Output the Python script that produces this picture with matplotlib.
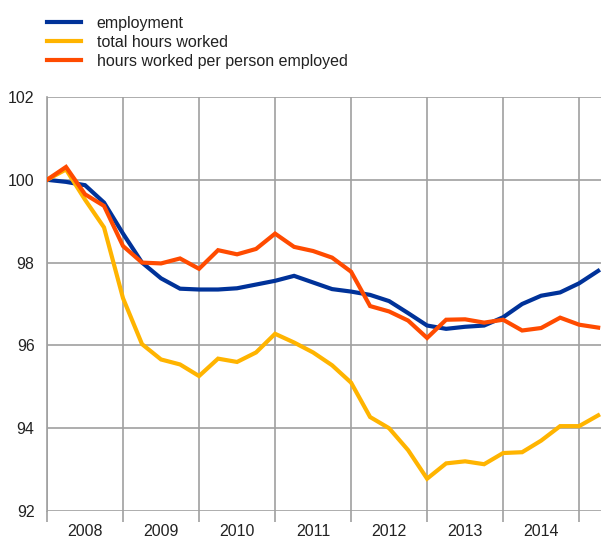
import matplotlib
matplotlib.use("Agg")
import matplotlib.pyplot as plt
import numpy as np

plt.rcParams['font.family'] = ['Liberation Sans', 'DejaVu Sans']

years = ["2008", "2009", "2010", "2011", "2012", "2013", "2014"]
# quarterly index values, 2008 Q1 .. 2015 Q2
employment = [100.0, 99.95, 99.87, 99.45, 98.7, 98.0, 97.62, 97.37, 97.35, 97.35,
              97.38, 97.47, 97.56, 97.68, 97.52, 97.36, 97.3, 97.22, 97.07, 96.78,
              96.48, 96.4, 96.45, 96.48, 96.68, 97.0, 97.2, 97.28, 97.5, 97.8]
total_hours = [100.0, 100.25, 99.52, 98.85, 97.14, 96.03, 95.66, 95.54, 95.26, 95.68,
               95.6, 95.83, 96.28, 96.07, 95.83, 95.52, 95.1, 94.27, 94.0, 93.47,
               92.78, 93.15, 93.2, 93.13, 93.4, 93.42, 93.7, 94.05, 94.05, 94.31]
hours_per_person = [100.0, 100.31, 99.65, 99.37, 98.4, 98.0, 97.98, 98.1, 97.85, 98.3,
                    98.2, 98.33, 98.7, 98.38, 98.28, 98.12, 97.78, 96.95, 96.82, 96.6,
                    96.18, 96.62, 96.63, 96.55, 96.62, 96.36, 96.42, 96.67, 96.5, 96.43]
labels = ["employment", "total hours worked", "hours worked per person employed"]
colors = ["#003299", "#FFB400", "#FF4B00"]

W, H = 602, 542
fig = plt.figure(figsize=(W / 100, H / 100), dpi=100)
ax = fig.add_axes([47 / W, 1 - 511 / H, (601 - 47) / W, (511 - 97) / H])

x = np.arange(len(employment))
for y, lab, c in zip([employment, total_hours, hours_per_person], labels, colors):
    ax.plot(x, y, color=c, lw=3, label=lab, solid_joinstyle='miter', zorder=3)

ax.set_ylim(92, 102)
ax.set_yticks([92, 94, 96, 98, 100, 102])
ax.set_xlim(0, 29.15)
ax.set_xticks(np.arange(0, 29, 4))
ax.set_xticks(np.arange(2, 28, 4), minor=True)
ax.set_xticklabels([])
ax.set_xticklabels(years, minor=True)

grid_c = "#a0a0a0"
ax.grid(True, which='major', color=grid_c, lw=1.2, zorder=1)
for s in ['top', 'right', 'bottom']:
    ax.spines[s].set_visible(False)
ax.spines['left'].set_color(grid_c)
ax.spines['left'].set_linewidth(1.2)
ax.tick_params(axis='x', which='major', length=8, color=grid_c, width=1.2)
ax.tick_params(axis='x', which='minor', length=0, pad=9, labelsize=11.5, labelcolor='#222222')
ax.tick_params(axis='y', length=0, pad=9, labelsize=11.5, labelcolor='#222222')

leg = fig.legend(loc='upper left', bbox_to_anchor=(47 / W, 1 - 16 / H), frameon=False,
                 fontsize=11.5, handlelength=2.1, handletextpad=1.0, labelspacing=0.25,
                 borderaxespad=0, borderpad=0)
for t in leg.get_texts():
    t.set_color('#222222')

fig.savefig("out.png", dpi=100)
